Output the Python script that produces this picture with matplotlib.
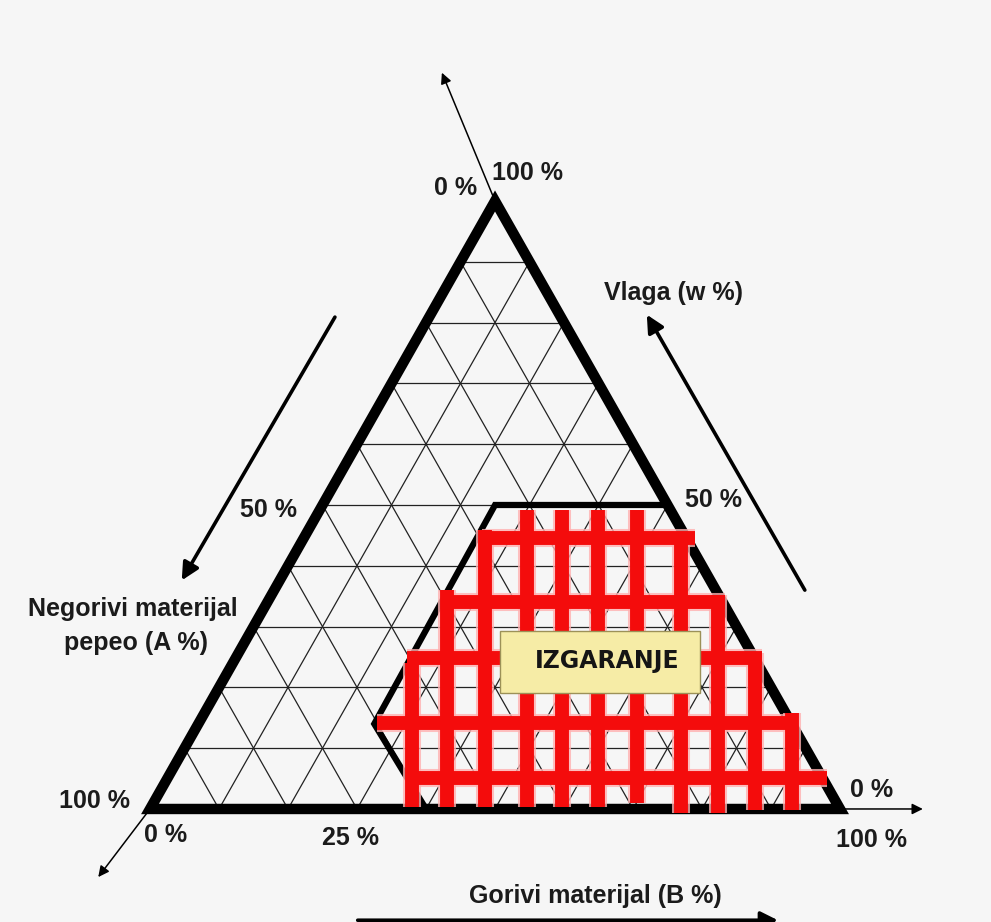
import numpy as np
import matplotlib.pyplot as plt
import matplotlib.font_manager as fm
from matplotlib.patches import Rectangle, Polygon

# grid lines every 10 %
levels = [10, 20, 30, 40, 50, 60, 70, 80, 90]

# burning zone, corners as (B %, W %)
zone_b = [25, 50, 100, 40, 25.5]
zone_w = [50, 50, 0, 0, 14]

# red hatching, x = position along the base (%), y = W (%)
col_x = [38.0, 43.0, 48.5, 54.6, 59.7, 64.9, 70.6, 77.0, 82.3, 87.7, 93.0]
col_top = [24.0, 36.0, 45.9, 49.2, 49.2, 49.2, 49.2, 45.4, 35.2, 25.7, 15.8]
col_bottom = [0.3, 0.3, 0.3, 0.3, 0.3, 0.3, 1.0, -0.7, -0.7, -0.2, -0.2]
row_y = [44.6, 34.0, 24.8, 14.1, 5.1]
row_left = [48.1, 42.3, 37.2, 32.9, 37.2]
row_right = [79.0, 83.3, 88.7, 93.8, 98.1]

labels = ['0 %', '100 %', 'Vlaga (w %)', '50 %', '50 %',
          'Negorivi materijal', 'pepeo (A %)', '100 %', '0 %', '25 %',
          '0 %', '100 %', 'Gorivi materijal (B %)']
lab_x = [44.3, 54.7, 75.9, 81.6, 17.1, -2.5, -2.0, -8.1, 2.2, 29.1, 104.6, 104.6, 64.5]
lab_y = [101.0, 103.5, 83.7, 49.7, 48.0, 31.7, 26.2, 0.2, -5.4, -5.9, 2.0, -6.25, -15.5]


def tern(b, w):
    # ternary (B, W) -> plot coords, A = 100 - B - W
    b = np.asarray(b, dtype=float)
    w = np.asarray(w, dtype=float)
    return b + w / 2, w


names = {f.name for f in fm.fontManager.ttflist}
lab_font = 'Liberation Sans' if 'Liberation Sans' in names else 'DejaVu Sans'
ink = '#1b1b1b'
bg = '#f6f6f6'

fig = plt.figure(figsize=(9.91, 9.22), dpi=100, facecolor=bg)
ax = fig.add_axes([0, 0, 1, 1])
ax.set_xlim(-21.74, 121.88)
ax.set_ylim(-18.59, 133.06)
ax.set_facecolor(bg)
ax.axis('off')

# thin grid
for v in levels:
    x, y = tern([0, 100 - v], [v, v])
    ax.plot(x, y, color='#222222', lw=0.9, zorder=1)
    x, y = tern([v, v], [0, 100 - v])
    ax.plot(x, y, color='#222222', lw=0.9, zorder=1)
    x, y = tern([100 - v, 0], [0, 100 - v])
    ax.plot(x, y, color='#222222', lw=0.9, zorder=1)

# outer triangle
tx, ty = tern([0, 100, 0], [0, 0, 100])
ax.add_patch(Polygon(np.column_stack([tx, ty]), closed=True, fill=False,
                     ec='black', lw=7.5, joinstyle='miter', zorder=3))

# burning zone outline
zx, zy = tern(zone_b, zone_w)
ax.add_patch(Polygon(np.column_stack([zx, zy]), closed=True, fill=False,
                     ec='black', lw=4.5, joinstyle='miter', zorder=3))

# red hatching with a soft pink edge
for x, t, b in zip(col_x, col_top, col_bottom):
    ax.plot([x, x], [b, t], color='#ffb0b0', lw=13, solid_capstyle='butt', alpha=0.8, zorder=4)
for y, l, r in zip(row_y, row_left, row_right):
    ax.plot([l, r], [y, y], color='#ffb0b0', lw=13, solid_capstyle='butt', alpha=0.8, zorder=4)
for x, t, b in zip(col_x, col_top, col_bottom):
    ax.plot([x, x], [b, t], color='#f40c0c', lw=10, solid_capstyle='butt', zorder=5)
for y, l, r in zip(row_y, row_left, row_right):
    ax.plot([l, r], [y, y], color='#f40c0c', lw=10, solid_capstyle='butt', zorder=5)

# zone label
ax.add_patch(Rectangle((50.7, 19.0), 29.0, 10.2, fc='#f6eca6', ec='#9c9158', lw=1.0, zorder=6))
ax.text(66.2, 24.3, 'IZGARANJE', ha='center', va='center', fontsize=17,
        fontweight='bold', family='DejaVu Sans', color='#151515', zorder=7)

# axis arrows
thin = dict(arrowstyle='-|>', color='black', lw=1.1, mutation_scale=16, shrinkA=0, shrinkB=0)
thick = dict(arrowstyle='-|>', color='black', lw=2.6, mutation_scale=26, shrinkA=0, shrinkB=0)
ax.annotate('', xy=(42.3, 121.1), xytext=(50, 100), arrowprops=thin, zorder=2)
ax.annotate('', xy=(-7.5, -11.2), xytext=(0, 0), arrowprops=thin, zorder=2)
ax.annotate('', xy=(112.0, 0), xytext=(100, 0), arrowprops=thin, zorder=2)
ax.annotate('', xy=(4.6, 37.6), xytext=(26.8, 80.9), arrowprops=thick)
ax.annotate('', xy=(72.0, 81.3), xytext=(94.9, 36.0), arrowprops=thick)
ax.annotate('', xy=(91.0, -18.3), xytext=(30.1, -18.3), arrowprops=thick)

for s, x, y in zip(labels, lab_x, lab_y):
    ax.text(x, y, s, ha='center', va='baseline', fontsize=18, fontweight='bold',
            family=lab_font, color=ink, zorder=8)

fig.savefig('out.png', dpi=100, facecolor=bg)
